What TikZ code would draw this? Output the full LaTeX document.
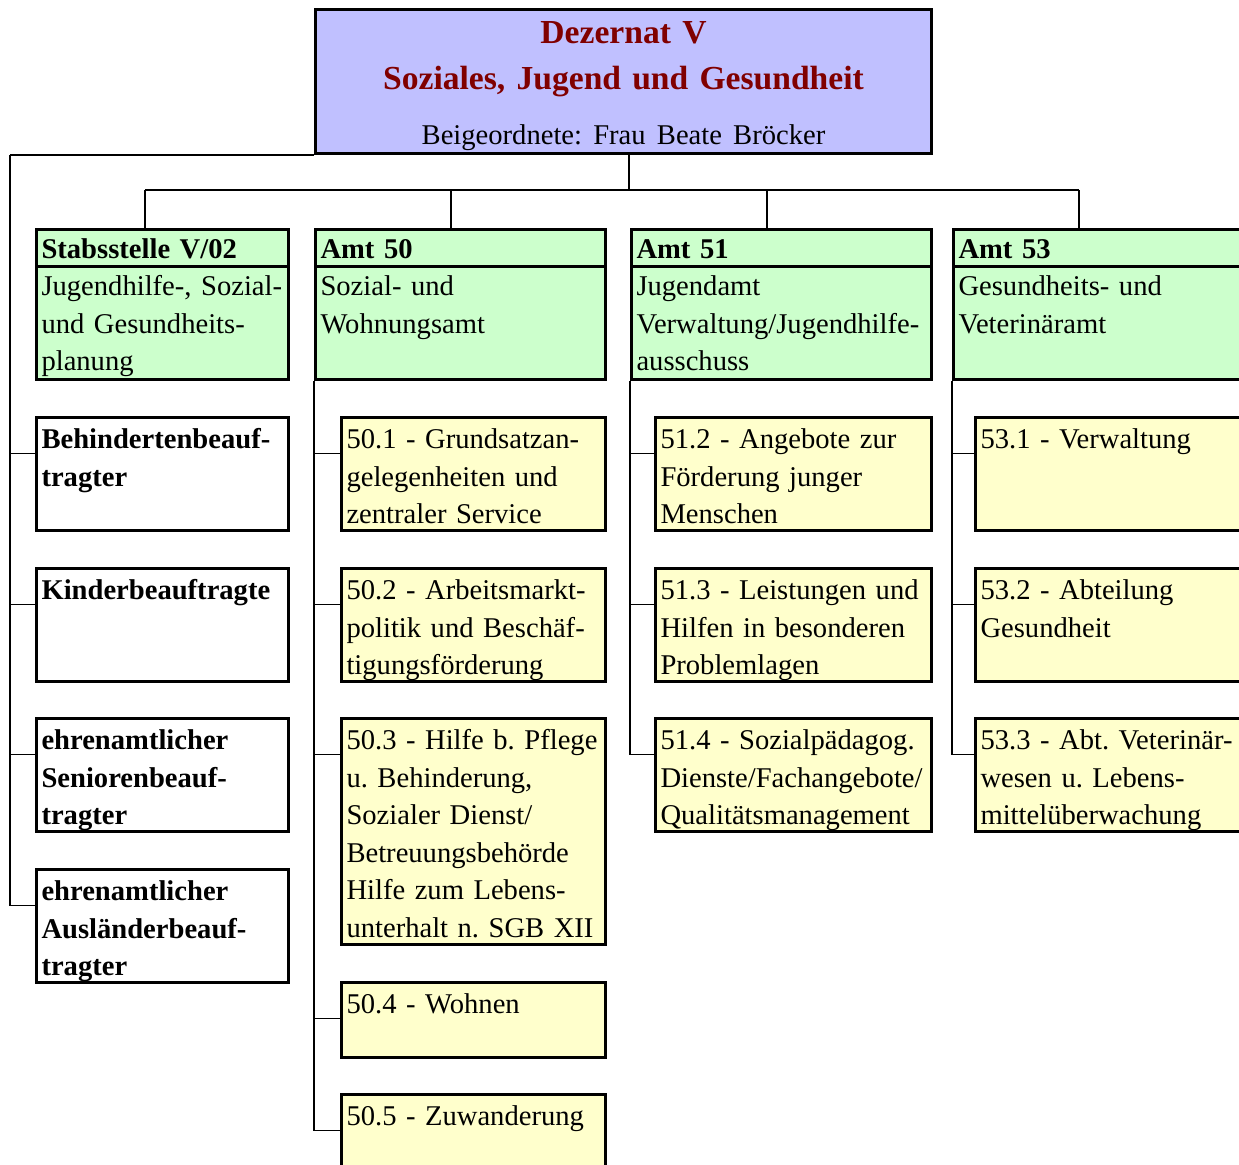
\documentclass[tikz,border=0pt]{standalone}
\usepackage{fontspec}
\setmainfont{Liberation Serif}
\usepackage{tikz}
\usetikzlibrary{calc}
\frenchspacing

\definecolor{dezblue}{RGB}{192,192,255}
\definecolor{dezred}{RGB}{128,0,0}
\definecolor{amtgreen}{RGB}{204,255,204}
\definecolor{abtyellow}{RGB}{255,255,204}

\newcommand{\bodyfont}{\fontsize{14.3}{18.75}\selectfont}

\tikzset{
    every node/.style={font=\bodyfont},
    link/.style={line width=0.6pt},
    orgbox/.style={draw, line width=1.5pt, anchor=north west,
        inner xsep=2.5pt, inner ysep=0pt, align=left},
    rowbox/.style={orgbox, text height=15.5pt, text depth=41pt},
    stelle/.style={rowbox, fill=white, text width=121pt, font=\bodyfont\bfseries},
    abt/.style={rowbox, fill=abtyellow, text width=#1},
    abt/.default=133pt,
    amthead/.style={orgbox, fill=amtgreen, text width=#1,
        text height=14.5pt, text depth=4pt, font=\bodyfont\bfseries},
    amtbody/.style={orgbox, fill=amtgreen, text width=#1,
        text height=14.5pt, text depth=42pt},
}

\begin{document}
\begin{tikzpicture}[x=0.5pt,y=-0.5pt]
    \clip[use as bounding box] (0,0) rectangle (1239,1164);

    % Dezernat
    \node[orgbox, fill=dezblue, inner xsep=0pt, text width=308pt, align=center,
        text height=17pt, text depth=55pt, font=\fontsize{16.8}{23}\selectfont] (dez) at (314,8)
        {\textcolor{dezred}{\bfseries Dezernat V}\\
         \textcolor{dezred}{\bfseries Soziales, Jugend und Gesundheit}\\[4.5pt]
         {\bodyfont Beigeordnete: Frau Beate Bröcker}};

    % Aemter
    \node[amthead=121pt] (stabh) at (35,228) {Stabsstelle V/02};
    \node[amtbody=121pt] (stab) at (35,265) {Jugendhilfe-, Sozial-\\und Gesundheits-\\planung};
    \node[amthead=140pt] (a50h) at (314,228) {Amt 50};
    \node[amtbody=140pt] (a50) at (314,265) {Sozial- und\\Wohnungsamt};
    \node[amthead=145pt] (a51h) at (630,228) {Amt 51};
    \node[amtbody=145pt] (a51) at (630,265) {Jugendamt\\Verwaltung/Jugendhilfe-\\ausschuss};
    \node[amthead=149pt] (a53h) at (952,228) {Amt 53};
    \node[amtbody=149pt] (a53) at (952,265) {Gesundheits- und\\Veterinäramt};

    % Beauftragte
    \node[stelle] (behi) at (35,416) {Behindertenbeauf-\\tragter};
    \node[stelle] (kind) at (35,567) {Kinderbeauftragte};
    \node[stelle] (seni) at (35,717) {ehrenamtlicher\\Seniorenbeauf-\\tragter};
    \node[stelle] (ausl) at (35,868) {ehrenamtlicher\\Ausländerbeauf-\\tragter};

    % Abteilungen Amt 50
    \node[abt=127pt] (s501) at (340,416) {50.1 - Grundsatzan-\\gelegenheiten und\\zentraler Service};
    \node[abt=127pt] (s502) at (340,567) {50.2 - Arbeitsmarkt-\\politik und Beschäf-\\tigungsförderung};
    \node[abt=127pt, text depth=97.5pt] (s503) at (340,717) {50.3 - Hilfe b. Pflege\\u. Behinderung,\\Sozialer Dienst/\\Betreuungsbehörde\\Hilfe zum Lebens-\\unterhalt n. SGB XII};
    \node[abt=127pt, text depth=22pt] (s504) at (340,981) {50.4 - Wohnen};
    \node[abt=127pt, text depth=28pt] (s505) at (340,1093) {50.5 - Zuwanderung};

    % Abteilungen Amt 51
    \node[abt] (s512) at (654,416) {51.2 - Angebote zur\\Förderung junger\\Menschen};
    \node[abt] (s513) at (654,567) {51.3 - Leistungen und\\Hilfen in besonderen\\Problemlagen};
    \node[abt] (s514) at (654,717) {51.4 - Sozialpädagog.\\Dienste/Fachangebote/\\Qualitätsmanagement};

    % Abteilungen Amt 53
    \node[abt] (s531) at (974,416) {53.1 - Verwaltung};
    \node[abt] (s532) at (974,567) {53.2 - Abteilung\\Gesundheit};
    \node[abt] (s533) at (974,717) {53.3 - Abt. Veterinär-\\wesen u. Lebens-\\mittelüberwachung};

    % Verbindungen
    \coordinate (hub) at (629,190);
    \coordinate (b1) at (145,190);
    \coordinate (b2) at (451,190);
    \coordinate (b3) at (767,190);
    \coordinate (b4) at (1079,190);
    \coordinate (spx) at (10,0);
    \draw[link] (hub |- dez.south) -- (hub);
    \draw[link] (b1) -- (b4);
    \foreach \b/\n in {b1/stabh, b2/a50h, b3/a51h, b4/a53h}
        \draw[link] (\b) -- (\b |- \n.north);
    \draw[link] (dez.south west) -- (dez.south west -| spx);
    \foreach \n in {behi, kind, seni, ausl}
        \draw[link] (dez.south west -| spx) |- ([yshift=-18.75pt]\n.north west);
    \foreach \n in {s501, s502, s503, s504, s505}
        \draw[link] (a50.south west) |- ([yshift=-18.75pt]\n.north west);
    \foreach \n in {s512, s513, s514}
        \draw[link] (a51.south west) |- ([yshift=-18.75pt]\n.north west);
    \foreach \n in {s531, s532, s533}
        \draw[link] (a53.south west) |- ([yshift=-18.75pt]\n.north west);
\end{tikzpicture}
\end{document}
